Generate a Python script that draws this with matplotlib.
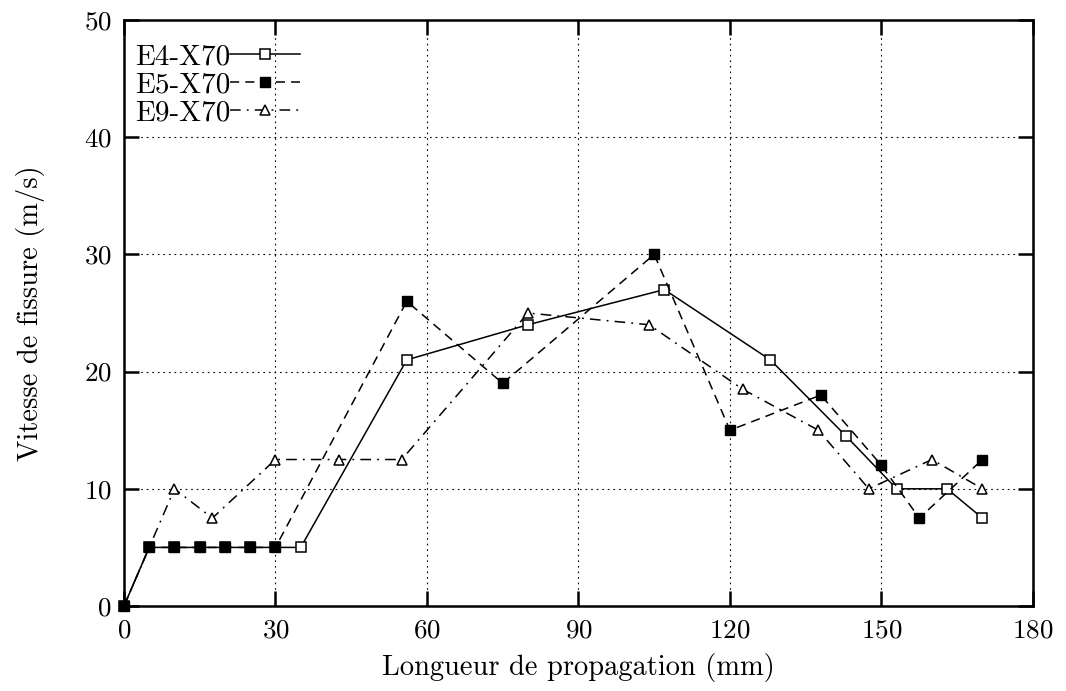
import matplotlib
matplotlib.use('Agg')
import matplotlib.pyplot as plt

plt.rcParams['font.family'] = 'cmr10'
plt.rcParams['mathtext.fontset'] = 'cm'
plt.rcParams['axes.formatter.use_mathtext'] = True

# E4-X70
e4_x = [0, 5, 10, 15, 20, 25, 30, 35, 56, 80, 107, 128, 143, 153, 163, 170]
e4_y = [0, 5, 5, 5, 5, 5, 5, 5, 21, 24, 27, 21, 14.5, 10, 10, 7.5]

# E5-X70
e5_x = [0, 5, 10, 15, 20, 25, 30, 56, 75, 105, 120, 138, 150, 157.5, 170]
e5_y = [0, 5, 5, 5, 5, 5, 5, 26, 19, 30, 15, 18, 12, 7.5, 12.5]

# E9-X70
e9_x = [0, 10, 17.5, 30, 42.5, 55, 80, 104, 122.5, 137.5, 147.5, 160, 170]
e9_y = [0, 10, 7.5, 12.5, 12.5, 12.5, 25, 24, 18.5, 15, 10, 12.5, 10]

x_ticks = [0, 30, 60, 90, 120, 150, 180]
y_ticks = [0, 10, 20, 30, 40, 50]

fig = plt.figure(figsize=(10.66, 6.91), dpi=100)
ax = fig.add_axes([0.1163, 0.123, 0.8527, 0.848])

ax.plot(e4_x, e4_y, color='black', lw=1.1, ls='-', marker='s', ms=7,
        mfc='white', mec='black', mew=1.1, label='E4-X70', zorder=3, clip_on=False)
ax.plot(e5_x, e5_y, color='black', lw=1.1, ls=(0, (6, 4)), marker='s', ms=7,
        mfc='black', mec='black', label='E5-X70', zorder=4, clip_on=False)
ax.plot(e9_x, e9_y, color='black', lw=1.1, ls=(0, (7, 4, 1.2, 4)), marker='^', ms=7,
        mfc='white', mec='black', mew=1.1, label='E9-X70', zorder=3, clip_on=False)

ax.set_xlim(0, 180)
ax.set_ylim(0, 50)
ax.set_xticks(x_ticks)
ax.set_yticks(y_ticks)
ax.grid(True, color='black', ls=(0, (1.5, 3.5)), lw=0.8)
ax.set_axisbelow(True)

ax.tick_params(direction='in', length=11, width=1.8, labelsize=19.5,
               top=True, right=True, pad=9)
for s in ax.spines.values():
    s.set_linewidth(1.8)

ax.set_xlabel('Longueur de propagation (mm)', fontsize=20.5, labelpad=8)
ax.set_ylabel('Vitesse de fissure (m/s)', fontsize=20.5, labelpad=28)

leg = ax.legend(loc='upper left', bbox_to_anchor=(-0.0055, 0.986),
                frameon=False, markerfirst=False,
                fontsize=21, handlelength=2.4, handletextpad=0.0,
                labelspacing=0.05, borderaxespad=0.0, borderpad=0.55)

plt.savefig('out.png', dpi=100)
